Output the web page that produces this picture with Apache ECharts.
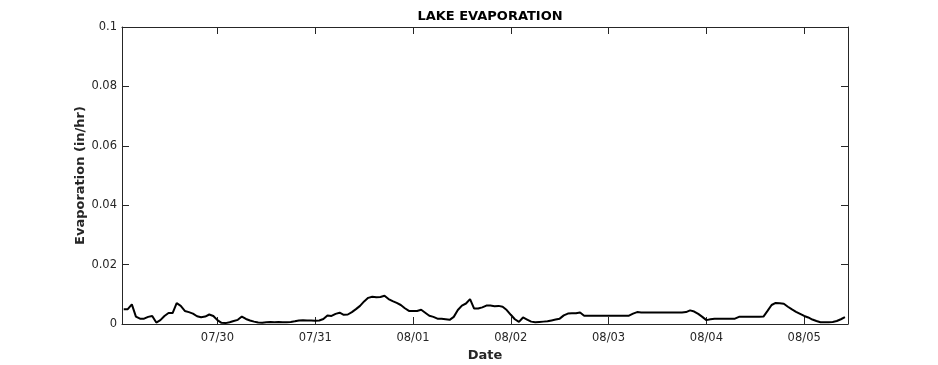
<!DOCTYPE html>
<html>
<head>
<meta charset="utf-8">
<script src="https://cdn.jsdelivr.net/npm/echarts@6/dist/echarts.min.js"></script>
<style>
  html, body { margin: 0; padding: 0; background: #fff; }
  #main { width: 938px; height: 365px; }
</style>
</head>
<body>
<div id="main"></div>
<script>
// hourly values, first one at startTime
const startTime = '2023-07-29T01:00:00';
const evaporation = [
    0.0050, 0.0050, 0.0066, 0.0025, 0.0018, 0.0018, 0.0024, 0.0027, 0.0005, 0.0013,
    0.0027, 0.0037, 0.0037, 0.0070, 0.0061, 0.0044, 0.0040, 0.0035, 0.0026, 0.0023,
    0.0025, 0.0032, 0.0027, 0.0013, 0.0004, 0.0003, 0.0006, 0.0010, 0.0014, 0.0025,
    0.0017, 0.0012, 0.0008, 0.0005, 0.0004, 0.0006, 0.0007, 0.0006, 0.0007, 0.0006,
    0.0006, 0.0007, 0.0009, 0.0012, 0.0013, 0.0012, 0.0012, 0.0011, 0.0012, 0.0017,
    0.0029, 0.0027, 0.0034, 0.0038, 0.0031, 0.0032, 0.0040, 0.0050, 0.0061, 0.0076,
    0.0088, 0.0092, 0.0090, 0.0091, 0.0095, 0.0084, 0.0077, 0.0071, 0.0064, 0.0053,
    0.0044, 0.0044, 0.0044, 0.0048, 0.0038, 0.0028, 0.0024, 0.0018, 0.0018, 0.0016,
    0.0014, 0.0024, 0.0047, 0.0062, 0.0069, 0.0084, 0.0052, 0.0052, 0.0056, 0.0062,
    0.0062, 0.0060, 0.0061, 0.0058, 0.0047, 0.0031, 0.0016, 0.0007, 0.0022, 0.0015,
    0.0008, 0.0006, 0.0007, 0.0008, 0.0009, 0.0012, 0.0015, 0.0018, 0.0029, 0.0035,
    0.0036, 0.0036, 0.0039, 0.0028, 0.0028, 0.0028, 0.0028, 0.0028, 0.0028, 0.0028,
    0.0028, 0.0028, 0.0028, 0.0028, 0.0028, 0.0035, 0.0040, 0.0039, 0.0039, 0.0039,
    0.0039, 0.0039, 0.0039, 0.0039, 0.0039, 0.0039, 0.0039, 0.0039, 0.0040, 0.0046,
    0.0042, 0.0034, 0.0024, 0.0013, 0.0016, 0.0018, 0.0018, 0.0018, 0.0018, 0.0018,
    0.0018, 0.0024, 0.0024, 0.0024, 0.0024, 0.0024, 0.0024, 0.0025, 0.0044, 0.0064,
    0.0071, 0.0070, 0.0068, 0.0058, 0.0049, 0.0041, 0.0034, 0.0027, 0.0022, 0.0015,
    0.0010, 0.0006, 0.0006, 0.0006, 0.0007, 0.0010, 0.0016, 0.0023
];
const xMin = '2023-07-29T00:35:00';
const xMax = '2023-08-05T10:45:00';
const yTicks = [0, 0.02, 0.04, 0.06, 0.08, 0.1];

const HOUR = 3600 * 1000;
const DAY = 24 * HOUR;
const t0 = new Date(startTime).getTime();
const seriesData = evaporation.map(function (v, i) {
    return [t0 + i * HOUR, v];
});

function pad(n) { return n < 10 ? '0' + n : '' + n; }
function fmtDate(val) {
    const d = new Date(val);
    return pad(d.getMonth() + 1) + '/' + pad(d.getDate());
}

const axisColor = '#262626';
const fontFamily = 'DejaVu Sans';

const timeAxisBase = {
    type: 'time',
    min: new Date(xMin).getTime(),
    max: new Date(xMax).getTime(),
    minInterval: DAY,
    maxInterval: DAY,
    splitLine: { show: false },
    axisLine: { show: true, onZero: false, lineStyle: { color: axisColor, width: 1 } },
    axisTick: { show: true, inside: true, length: 7, lineStyle: { color: axisColor } }
};

const valueAxisBase = {
    type: 'value',
    min: 0,
    max: 0.1,
    interval: 0.02,
    splitLine: { show: false },
    axisLine: { show: true, lineStyle: { color: axisColor, width: 1 } },
    axisTick: { show: true, inside: true, length: 7, lineStyle: { color: axisColor } }
};

const myChart = echarts.init(document.getElementById('main'), null, { renderer: 'canvas' });
myChart.setOption({
    animation: false,
    backgroundColor: '#ffffff',
    textStyle: { fontFamily: fontFamily },
    title: {
        text: 'LAKE EVAPORATION',
        left: 485,
        top: 5,
        textAlign: 'center',
        textStyle: { fontFamily: fontFamily, fontSize: 13, fontWeight: 'bold', color: '#000' }
    },
    grid: { left: 122, right: 90, top: 27, bottom: 41, containLabel: false, outerBoundsMode: 'none' },
    xAxis: [
        Object.assign({}, timeAxisBase, {
            position: 'bottom',
            name: 'Date',
            nameLocation: 'middle',
            nameGap: 25,
            nameMoveOverlap: false,
            nameTextStyle: { fontFamily: fontFamily, fontSize: 13, fontWeight: 'bold', color: axisColor },
            axisLabel: {
                color: axisColor,
                fontFamily: fontFamily,
                fontSize: 11.5,
                margin: 8,
                showMinLabel: false,
                showMaxLabel: false,
                formatter: function (val) { return fmtDate(val); }
            }
        }),
        Object.assign({}, timeAxisBase, {
            position: 'top',
            axisLabel: { show: false }
        })
    ],
    yAxis: [
        Object.assign({}, valueAxisBase, {
            position: 'left',
            name: 'Evaporation (in/hr)',
            nameLocation: 'middle',
            nameGap: 35,
            nameMoveOverlap: false,
            nameTextStyle: { fontFamily: fontFamily, fontSize: 13, fontWeight: 'bold', color: axisColor },
            axisLabel: {
                color: axisColor,
                fontFamily: fontFamily,
                fontSize: 11.5,
                margin: 5,
                formatter: function (val) {
                    for (let i = 0; i < yTicks.length; i++) {
                        if (Math.abs(val - yTicks[i]) < 1e-9) return String(yTicks[i]);
                    }
                    return '';
                }
            }
        }),
        Object.assign({}, valueAxisBase, {
            position: 'right',
            axisLabel: { show: false }
        })
    ],
    series: [
        {
            name: 'Evaporation',
            type: 'line',
            xAxisIndex: 0,
            yAxisIndex: 0,
            data: seriesData,
            showSymbol: false,
            symbol: 'none',
            lineStyle: { color: '#000000', width: 2 },
            emphasis: { disabled: true }
        }
    ]
});
</script>
</body>
</html>
